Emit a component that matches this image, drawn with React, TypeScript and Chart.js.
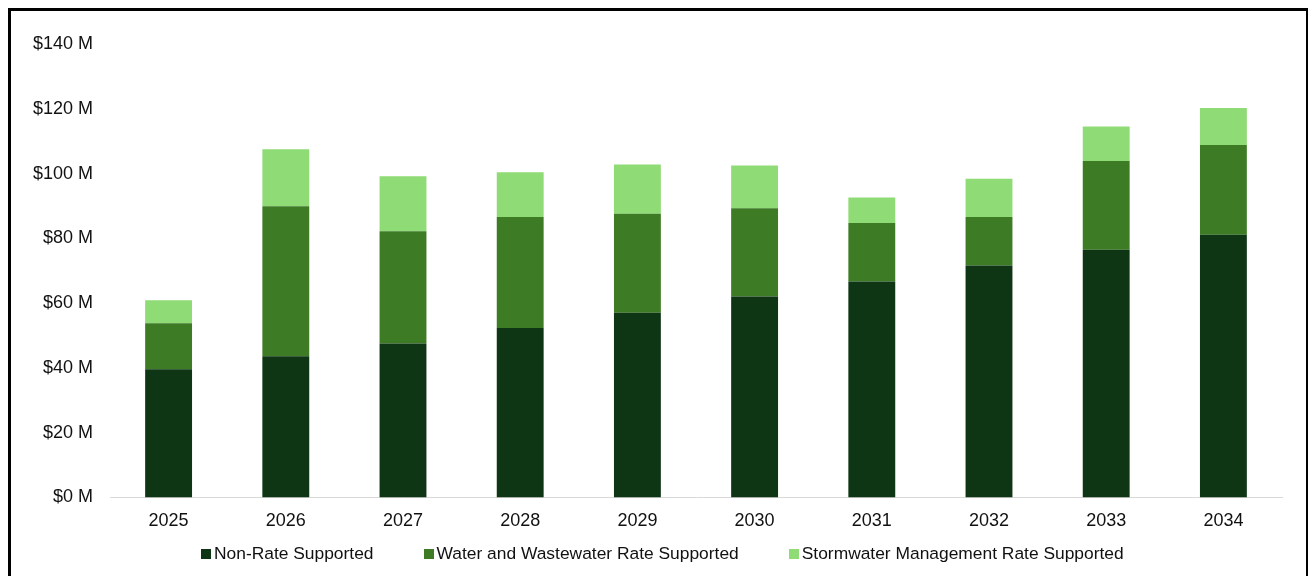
import React, { useEffect, useRef } from "react";
import { Chart, registerables } from "chart.js";

Chart.register(...registerables);

const years = ["2025", "2026", "2027", "2028", "2029", "2030", "2031", "2032", "2033", "2034"];
const nonRate = [39.6, 43.6, 47.5, 52.3, 57.0, 62.0, 66.7, 71.6, 76.5, 81.1];
const waterWastewater = [14.2, 46.3, 34.7, 34.3, 30.6, 27.3, 18.0, 15.0, 27.4, 27.7];
const stormwater = [7.1, 17.6, 17.0, 13.8, 15.2, 13.2, 7.9, 11.8, 10.6, 11.4];
const seriesNames = [
  "Non-Rate Supported",
  "Water and Wastewater Rate Supported",
  "Stormwater Management Rate Supported",
];
const seriesColors = ["#0e3514", "#3d7b24", "#8fdb75"];

const FONT = "'Liberation Sans', Arial, sans-serif";

export default function App() {
  const ref = useRef<HTMLCanvasElement | null>(null);

  useEffect(() => {
    document.body.style.overflow = "hidden";
    if (!ref.current) return;
    const values = [nonRate, waterWastewater, stormwater];
    const chart = new Chart(ref.current, {
      type: "bar",
      data: {
        labels: years,
        datasets: values.map((v, i) => ({
          label: seriesNames[i],
          data: v,
          backgroundColor: seriesColors[i],
          borderWidth: 0,
          barPercentage: 0.4,
          categoryPercentage: 1,
        })),
      },
      options: {
        animation: false,
        responsive: false,
        maintainAspectRatio: false,
        layout: { padding: { top: 33, right: 23, bottom: 6, left: 0 } },
        plugins: {
          legend: { display: false },
          tooltip: { enabled: false },
        },
        scales: {
          x: {
            stacked: true,
            grid: { display: false, drawTicks: false },
            border: { display: true, color: "#d9d9d9", width: 1 },
            ticks: { color: "#111", font: { family: FONT, size: 18 }, padding: 13 },
          },
          y: {
            stacked: true,
            min: 0,
            max: 140,
            afterFit: (s: any) => {
              s.width = 99;
            },
            grid: { display: false, drawTicks: false },
            border: { display: false },
            ticks: {
              stepSize: 20,
              color: "#111",
              font: { family: FONT, size: 18 },
              padding: 17,
              callback: (v: any) => `$${v} M`,
            },
          },
        },
      },
    });
    return () => chart.destroy();
  }, []);

  return (
    <div
      style={{
        position: "relative",
        width: 1301,
        height: 568,
        border: "3px solid #000",
        borderBottom: "none",
        boxSizing: "border-box",
        background: "#fff",
        fontFamily: FONT,
      }}
    >
      <canvas
        ref={ref}
        width={1294}
        height={540}
        style={{ position: "absolute", left: 0, top: 0, width: 1294, height: 540 }}
      />
      <div
        style={{
          position: "absolute",
          top: 532,
          left: 190,
          display: "flex",
          alignItems: "center",
          fontSize: 17.4,
          color: "#111",
          whiteSpace: "nowrap",
        }}
      >
        {seriesNames.map((n, i) => (
          <div key={n} style={{ display: "flex", alignItems: "center", marginRight: i < 2 ? 50 : 0 }}>
            <span
              style={{
                display: "inline-block",
                width: 10,
                height: 10,
                background: seriesColors[i],
                marginRight: 3,
              }}
            />
            <span>{n}</span>
          </div>
        ))}
      </div>
    </div>
  );
}
